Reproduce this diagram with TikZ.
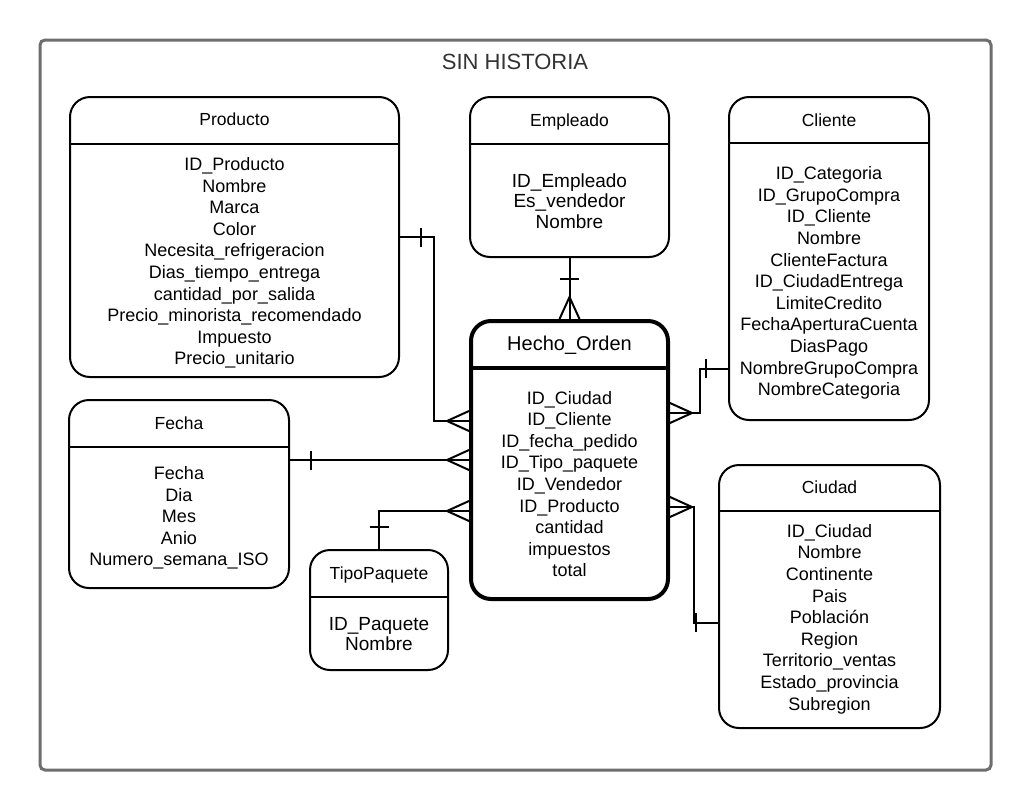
\documentclass[tikz,border=0pt]{standalone}
\usepackage{fontspec}
\setmainfont{Liberation Sans}
\usepackage{xcolor}
\usetikzlibrary{calc}
\definecolor{marcogris}{RGB}{110,110,110}
\definecolor{textogris}{RGB}{51,51,51}

\begin{document}
\begin{tikzpicture}[x=1pt, y=-1pt,
    entidad/.style={draw, line width=2pt, rounded corners=20pt, inner sep=0pt},
    hecho/.style={entidad, line width=4pt},
    titulo/.style={inner sep=0pt, text height=12.5pt, text depth=0pt, font=\fontsize{17.5}{20}\selectfont},
    campos/.style={align=center, inner sep=0pt, font=\fontsize{18}{21.6}\selectfont},
    camposG/.style={align=center, inner sep=0pt, font=\fontsize{19}{20.6}\selectfont},
    conector/.style={line width=2pt},
    muchos/.pic={\draw[conector] (0,-10) -- (-22,0) -- (0,10);},
    uno/.pic={\draw[conector] (0,-9.5) -- (0,9.5);}
]
    % Page and frame
    \fill[white] (0,0) rectangle (1030,809);
    \useasboundingbox (0,0) rectangle (1030,809);
    \draw[marcogris, line width=3pt, rounded corners=5pt] (40,40) rectangle (991,770);
    \node[inner sep=0pt, text height=15.7pt, text depth=0pt, textogris, font=\fontsize{22}{26}\selectfont] (titulo) at (515,62) {SIN HISTORIA};

    % Producto
    \node[entidad, minimum width=329pt, minimum height=280pt] (producto) at (234.5,237) {};
    \draw[conector] ($(producto.north west)+(0,48)$) -- ($(producto.north east)+(0,48)$);
    \node[titulo] (productoT) at (234.5,119) {Producto};
    \node[campos] (productoC) at (234.5,263) {ID\_Producto\\Nombre\\Marca\\Color\\Necesita\_refrigeracion\\Dias\_tiempo\_entrega\\cantidad\_por\_salida\\Precio\_minorista\_recomendado\\Impuesto\\Precio\_unitario};

    % Empleado
    \node[entidad, minimum width=199pt, minimum height=160pt] (empleado) at (569.5,177) {};
    \draw[conector] ($(empleado.north west)+(0,48)$) -- ($(empleado.north east)+(0,48)$);
    \node[titulo] (empleadoT) at (569.5,120) {Empleado};
    \node[camposG] (empleadoC) at (569.5,201) {ID\_Empleado\\Es\_vendedor\\Nombre};

    % Cliente
    \node[entidad, minimum width=200pt, minimum height=323pt] (cliente) at (829,258.5) {};
    \draw[conector] ($(cliente.north west)+(0,47)$) -- ($(cliente.north east)+(0,47)$);
    \node[titulo] (clienteT) at (829,120) {Cliente};
    \node[campos] (clienteC) at (829,283) {ID\_Categoria\\ID\_GrupoCompra\\ID\_Cliente\\Nombre\\ClienteFactura\\ID\_CiudadEntrega\\LimiteCredito\\FechaAperturaCuenta\\DiasPago\\NombreGrupoCompra\\NombreCategoria};

    % Hecho_Orden
    \node[hecho, minimum width=197pt, minimum height=278pt] (hecho) at (569.5,460) {};
    \draw[line width=4pt] ($(hecho.north west)+(0,49)$) -- ($(hecho.north east)+(0,49)$);
    \node[titulo, text height=14.3pt, font=\fontsize{20}{24}\selectfont] (hechoT) at (569.5,343) {Hecho\_Orden};
    \node[campos] (hechoC) at (569.5,484) {ID\_Ciudad\\ID\_Cliente\\ID\_fecha\_pedido\\ID\_Tipo\_paquete\\ID\_Vendedor\\ID\_Producto\\cantidad\\impuestos\\total};

    % Fecha
    \node[entidad, minimum width=220pt, minimum height=188pt] (fecha) at (179,494) {};
    \draw[conector] ($(fecha.north west)+(0,48)$) -- ($(fecha.north east)+(0,48)$);
    \node[titulo] (fechaT) at (179,423) {Fecha};
    \node[campos] (fechaC) at (179,518) {Fecha\\Dia\\Mes\\Anio\\Numero\_semana\_ISO};

    % TipoPaquete
    \node[entidad, minimum width=138pt, minimum height=120pt] (tipo) at (379,610) {};
    \draw[conector] ($(tipo.north west)+(0,48)$) -- ($(tipo.north east)+(0,48)$);
    \node[titulo] (tipoT) at (379,573) {TipoPaquete};
    \node[camposG] (tipoC) at (379,634) {ID\_Paquete\\Nombre};

    % Ciudad
    \node[entidad, minimum width=221pt, minimum height=263pt] (ciudad) at (829.5,596.5) {};
    \draw[conector] ($(ciudad.north west)+(0,47)$) -- ($(ciudad.north east)+(0,47)$);
    \node[titulo] (ciudadT) at (829.5,487) {Ciudad};
    \node[campos] (ciudadC) at (829.5,619) {ID\_Ciudad\\Nombre\\Continente\\Pais\\Población\\Region\\Territorio\_ventas\\Estado\_provincia\\Subregion};

    % Relaciones
    \coordinate (pProducto) at ($(hecho.west)+(0,-39)$);
    \coordinate (pTipo) at ($(hecho.west)+(0,51)$);
    \coordinate (pCliente) at ($(hecho.east)+(0,-47)$);
    \coordinate (pCiudad) at ($(hecho.east)+(0,47)$);

    \draw[conector] (producto.east) -- ++(34,0) |- (pProducto);
    \pic at ($(producto.east)+(21,0)$) {uno};
    \pic at (pProducto) {muchos};

    \draw[conector] (fecha.east |- hecho.west) -- (hecho.west);
    \pic at ($(fecha.east |- hecho.west)+(21,0)$) {uno};
    \pic at (hecho.west) {muchos};

    \draw[conector] (tipo.north) |- (pTipo);
    \pic[rotate=90] at ($(tipo.north)+(0,-22)$) {uno};
    \pic at (pTipo) {muchos};

    \draw[conector] (empleado.south) -- (hecho.north);
    \pic[rotate=90] at ($(empleado.south)+(0,21)$) {uno};
    \pic[rotate=-90] at (hecho.north) {muchos};

    \draw[conector] ($(cliente.west)+(0,110)$) -- ++(-28,0) |- (pCliente);
    \pic at ($(cliente.west)+(-22,110)$) {uno};
    \pic[xscale=-1] at (pCliente) {muchos};

    \draw[conector] (pCiudad) -| ($(ciudad.west)+(-24,26)$) -- ($(ciudad.west)+(0,26)$);
    \pic at ($(ciudad.west)+(-22,26)$) {uno};
    \pic[xscale=-1] at (pCiudad) {muchos};
\end{tikzpicture}
\end{document}
